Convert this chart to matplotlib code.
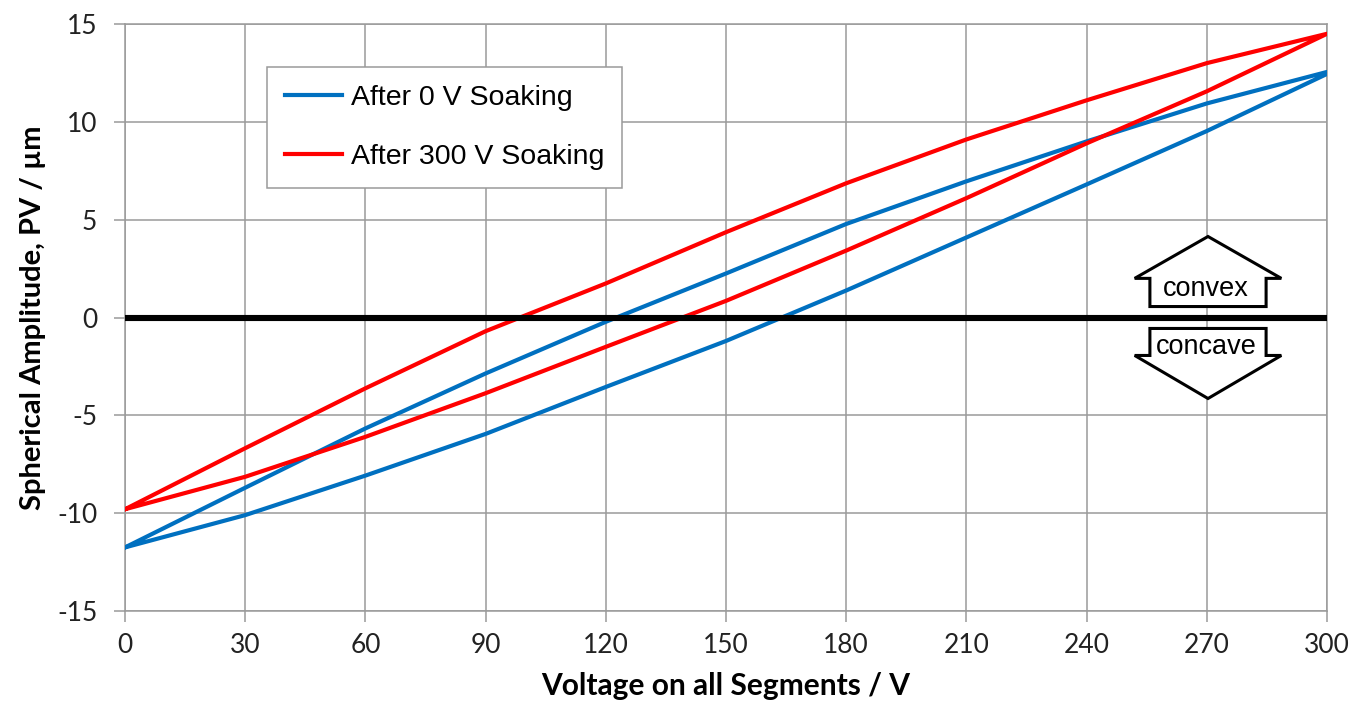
import matplotlib
matplotlib.use("Agg")
import matplotlib.pyplot as plt
from matplotlib.patches import Polygon

plt.rcParams["axes.unicode_minus"] = False

# ---- data ----
voltage = [0, 30, 60, 90, 120, 150, 180, 210, 240, 270, 300]
blue_rising = [-11.75, -10.1, -8.08, -5.95, -3.55, -1.2, 1.38, 4.09, 6.8, 9.53, 12.45]
blue_falling = [-11.75, -8.7, -5.67, -2.86, -0.22, 2.25, 4.78, 6.96, 9.0, 10.94, 12.55]
red_rising = [-9.8, -8.14, -6.1, -3.87, -1.5, 0.85, 3.42, 6.1, 8.9, 11.56, 14.5]
red_falling = [-9.8, -6.68, -3.62, -0.7, 1.74, 4.36, 6.86, 9.1, 11.1, 13.0, 14.5]
series_labels = ["After 0 V Soaking", "After 300 V Soaking"]
x_ticks = [0, 30, 60, 90, 120, 150, 180, 210, 240, 270, 300]
y_ticks = [-15, -10, -5, 0, 5, 10, 15]

BLUE = "#0070C0"
RED = "#FF0000"
GRID = "#9a9a9a"

fig = plt.figure(figsize=(13.63, 7.06), dpi=100)
ax = fig.add_axes([125/1363, 95/706, 1202/1363, 587/706])

ax.set_xlim(0, 300)
ax.set_ylim(-15, 15)
ax.set_xticks(x_ticks)
ax.set_yticks(y_ticks)
ax.grid(True, color=GRID, linewidth=1.1, zorder=0)
ax.set_axisbelow(True)
for s in ax.spines.values():
    s.set_color(GRID)
    s.set_linewidth(1.1)
ax.tick_params(axis="both", direction="out", length=8, width=1.1, color=GRID,
               labelsize=19, labelcolor="#222222")
ax.tick_params(axis="y", pad=12)
ax.tick_params(axis="x", pad=8)
for lab in ax.get_xticklabels() + ax.get_yticklabels():
    lab.set_fontfamily("Lato")

bx = voltage + voltage[::-1]
by = blue_rising + blue_falling[::-1]
rx = voltage + voltage[::-1]
ry = red_rising + red_falling[::-1]
ax.plot(bx, by, color=BLUE, lw=3.0, solid_joinstyle="round", label=series_labels[0], zorder=3)
ax.plot(rx, ry, color=RED, lw=3.0, solid_joinstyle="round", label=series_labels[1], zorder=3)

ax.axhline(0, color="black", lw=4.4, zorder=4)

# arrows
cx = 270.3
up = [(cx, 4.14), (cx + 18.3, 2.0), (cx + 14.5, 2.0), (cx + 14.5, 0.56),
      (cx - 14.5, 0.56), (cx - 14.5, 2.0), (cx - 18.3, 2.0)]
down = [(cx, -4.14), (cx + 18.3, -1.94), (cx + 14.5, -1.94), (cx + 14.5, -0.56),
        (cx - 14.5, -0.56), (cx - 14.5, -1.94), (cx - 18.3, -1.94)]
for pts in (up, down):
    ax.add_patch(Polygon(pts, closed=True, facecolor="white", edgecolor="black",
                         lw=2.2, joinstyle="miter", zorder=5))
ax.text(cx - 0.5, 1.45, "convex", ha="center", va="center", fontsize=19.5,
        fontfamily="Liberation Sans", zorder=6)
ax.text(cx - 0.5, -1.5, "concave", ha="center", va="center", fontsize=19.5,
        fontfamily="Liberation Sans", zorder=6)

leg = ax.legend(loc="upper left", bbox_to_anchor=(0.118, 0.927), borderaxespad=0,
                prop={"family": "Liberation Sans", "size": 20.5}, frameon=True,
                fancybox=False, edgecolor=GRID, framealpha=1, handlelength=2.0,
                handletextpad=0.3, borderpad=0.64, labelspacing=1.16)
leg.get_frame().set_linewidth(1.1)

ax.set_xlabel("Voltage on all Segments / V", fontsize=21.5, fontweight="bold",
              fontfamily="Lato", labelpad=10)
ax.set_ylabel("Spherical Amplitude, PV / µm", fontsize=21, fontweight="bold",
              fontfamily="Lato", labelpad=8)

fig.savefig("out.png", dpi=100)
